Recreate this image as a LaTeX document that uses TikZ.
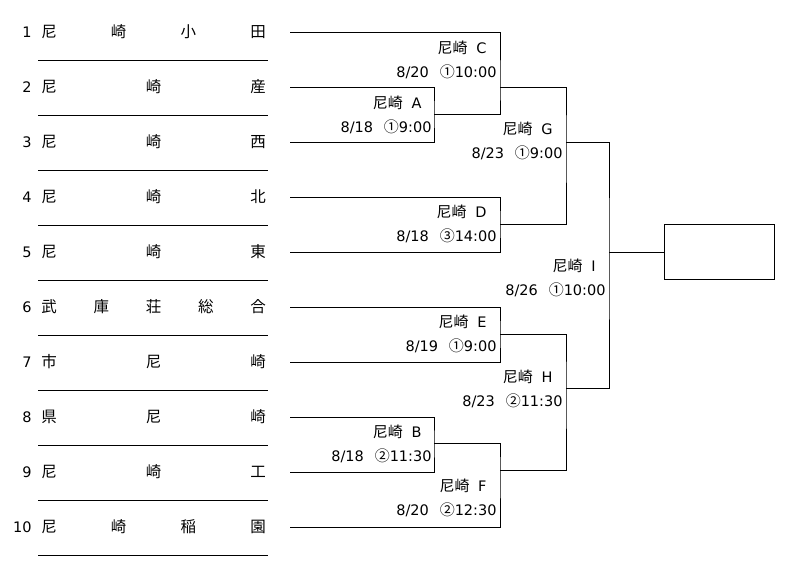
\documentclass[tikz,border=0pt]{standalone}
\usepackage{fontspec}
\setmainfont{DejaVu Sans}
\newfontfamily\jp{Noto Sans CJK JP}
\newcommand{\jpc}[1]{{\jp\fontsize{15}{16}\selectfont #1}}
\begin{document}
\begin{tikzpicture}[x=1pt,y=-1pt,line width=0.9pt,
                    every node/.style={inner sep=0pt,font=\fontsize{14.5}{16}\selectfont},
                    num/.style={anchor=east},
                    letter/.style={font=\jp\fontsize{15.5}{16}\selectfont},
                    date/.style={anchor=east}]
\useasboundingbox (0,0) rectangle (800,579);
% teams
\foreach \k/\name [count=\i] in {4/{尼,崎,小,田},3/{尼,崎,産},3/{尼,崎,西},3/{尼,崎,北},
    3/{尼,崎,東},5/{武,庫,荘,総,合},3/{市,尼,崎},3/{県,尼,崎},3/{尼,崎,工},4/{尼,崎,稲,園}}{
  \pgfmathsetmacro\ty{32+55*(\i-1)}
  \node[num] (no\i) at (32,\ty) {\i};
  \foreach \c [count=\j] in \name
    \node[letter] (c\i-\j) at ({49+209*(\j-1)/(\k-1)},\ty) {\c};
  \draw (38,\ty+28) -- (268,\ty+28);
  \coordinate (t\i) at (290,\ty);
}
% match points
\coordinate (A) at (434,114);
\coordinate (B) at (434,443);
\coordinate (C) at (500,87);
\coordinate (D) at (500,224);
\coordinate (E) at (500,334);
\coordinate (F) at (500,470);
\coordinate (G) at (566,142);
\coordinate (H) at (566,388);
\coordinate (I) at (609,252);
\node[draw,minimum width=110pt,minimum height=55pt] (win) at (719,252) {};
% bracket
\draw (t2) -| (A) |- (t3);
\draw (t1) -| (C) |- (A);
\draw (t4) -| (D) |- (t5);
\draw (C) -| (G) |- (D);
\draw (t6) -| (E) |- (t7);
\draw (t8) -| (B) |- (t9);
\draw (B) -| (F) |- (t10);
\draw (E) -| (H) |- (F);
\draw (G) -| (I) |- (H);
\draw (I) -- (win.west);
% games
\foreach \g/\x/\y/\m/\dd/\c/\t in {C/497/72/8/20/①/10:00,A/432/127/8/18/①/9:00,
    G/563/153/8/23/①/9:00,D/497/236/8/18/③/14:00,I/606/290/8/26/①/10:00,
    E/497/346/8/19/①/9:00,H/563/401/8/23/②/11:30,B/432/456/8/18/②/11:30,
    F/497/510/8/20/②/12:30}{
  \node[date] (d\g) at (\x,\y) {\m/\dd\hspace{0.75em}\jpc{\c}\t};
  \node[date] (n\g) at (\x-10,\y-24) {\jpc{尼崎}\hspace{0.6em}\g};
}
\end{tikzpicture}
\end{document}
